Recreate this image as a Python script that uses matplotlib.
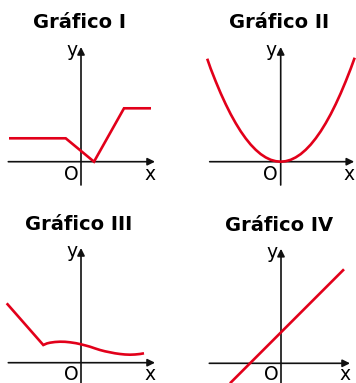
import matplotlib

matplotlib.use("Agg")
import matplotlib.pyplot as plt

W, H = 356, 383
UNIT = 10.0  # pixels per data unit
RED = "#e2001a"

titles = ["Gráfico I", "Gráfico II", "Gráfico III", "Gráfico IV"]

# Gráfico I: piecewise linear
g1_x = [-7.2, -1.53, 1.3, 4.3, 7.0]
g1_y = [2.34, 2.34, 0.0, 5.34, 5.34]

# Gráfico II: parabola, read point by point
g2_x = [-7.35, -7.0, -6.5, -6.0, -5.5, -5.0, -4.5, -4.0, -3.5, -3.0, -2.5, -2.0, -1.5,
        -1.0, -0.5, 0.0, 0.5, 1.0, 1.5, 2.0, 2.5, 3.0, 3.5, 4.0, 4.5, 5.0, 5.5, 6.0,
        6.5, 7.0, 7.4]
g2_y = [10.3, 9.3, 8.03, 6.84, 5.75, 4.75, 3.85, 3.04, 2.33, 1.71, 1.19, 0.76, 0.43,
        0.19, 0.05, 0.0, 0.05, 0.19, 0.43, 0.76, 1.19, 1.71, 2.33, 3.04, 3.85, 4.75,
        5.75, 6.84, 8.03, 9.3, 10.4]

# Gráfico III: line then a gentle wave
g3_x = [-7.43, -3.77, -3.4, -3.1, -2.6, -2.1, -1.6, -1.1, -0.5, 0.0, 0.5, 0.9, 1.4,
        1.9, 2.4, 2.9, 3.4, 3.9, 4.4, 4.9, 5.4, 5.9, 6.3]
g3_y = [5.94, 1.77, 1.93, 2.0, 2.07, 2.1, 2.09, 2.04, 1.95, 1.84, 1.71, 1.6, 1.43,
        1.27, 1.14, 1.04, 0.94, 0.87, 0.82, 0.8, 0.82, 0.87, 0.94]

# Gráfico IV: straight line
g4_x = [-5.1, 6.3]
g4_y = [-2.0, 9.4]

curves = [(g1_x, g1_y), (g2_x, g2_y), (g3_x, g3_y), (g4_x, g4_y)]

# layout in pixels (top-left origin): panel box, where the axes cross, axis extents
panels = [
    dict(box=(0, 0, 178, 191), origin=(81, 161.7), xaxis=(-7.27, 7.4), yaxis=(-2.33, 11.47),
         title=(-0.18, 13.34), label_dy=0.0),
    dict(box=(178, 0, 356, 191), origin=(280.7, 161.7), xaxis=(-7.1, 7.35), yaxis=(-2.33, 11.47),
         title=(-0.12, 13.34), label_dy=0.0),
    dict(box=(0, 191, 178, 383), origin=(81, 362.7), xaxis=(-7.27, 7.4), yaxis=(-2.1, 11.47),
         title=(-0.2, 13.27), label_dy=0.15),
    dict(box=(178, 191, 356, 383), origin=(281, 363.3), xaxis=(-7.17, 6.9), yaxis=(-2.1, 11.45),
         title=(-0.2, 13.27), label_dy=0.2),
]

fig = plt.figure(figsize=(W / 100, H / 100), dpi=100)

for (cx, cy), title, p in zip(curves, titles, panels):
    bx0, by0, bx1, by1 = p["box"]
    ox, oy = p["origin"]
    ax = fig.add_axes([bx0 / W, (H - by1) / H, (bx1 - bx0) / W, (by1 - by0) / H])
    ax.set_xlim((bx0 - ox) / UNIT, (bx1 - ox) / UNIT)
    ax.set_ylim((oy - by1) / UNIT, (oy - by0) / UNIT)
    ax.axis("off")

    arrow = dict(arrowstyle="-|>", lw=1.2, color="#111111", mutation_scale=11, shrinkA=0, shrinkB=0)
    x0, x1 = p["xaxis"]
    y0, y1 = p["yaxis"]
    ax.annotate("", xy=(x1, 0), xytext=(x0, 0), arrowprops=arrow)
    ax.annotate("", xy=(0, y1), xytext=(0, y0), arrowprops=arrow)

    ax.plot(cx, cy, color=RED, lw=1.9, solid_joinstyle="miter", solid_capstyle="butt", zorder=3)

    dy = p["label_dy"]
    ax.text(-0.93, y1 - 0.9, "y", fontsize=13.5, ha="center", va="baseline")
    ax.text(-1.0, -1.83 + dy, "O", fontsize=13.5, ha="center", va="baseline")
    ax.text(x1 - 0.5, -1.83 + dy, "x", fontsize=13.5, ha="center", va="baseline")

    tx, ty = p["title"]
    ax.text(tx, ty, title, fontsize=14, fontweight="bold", ha="center", va="baseline")

fig.savefig("out.png", dpi=100)
